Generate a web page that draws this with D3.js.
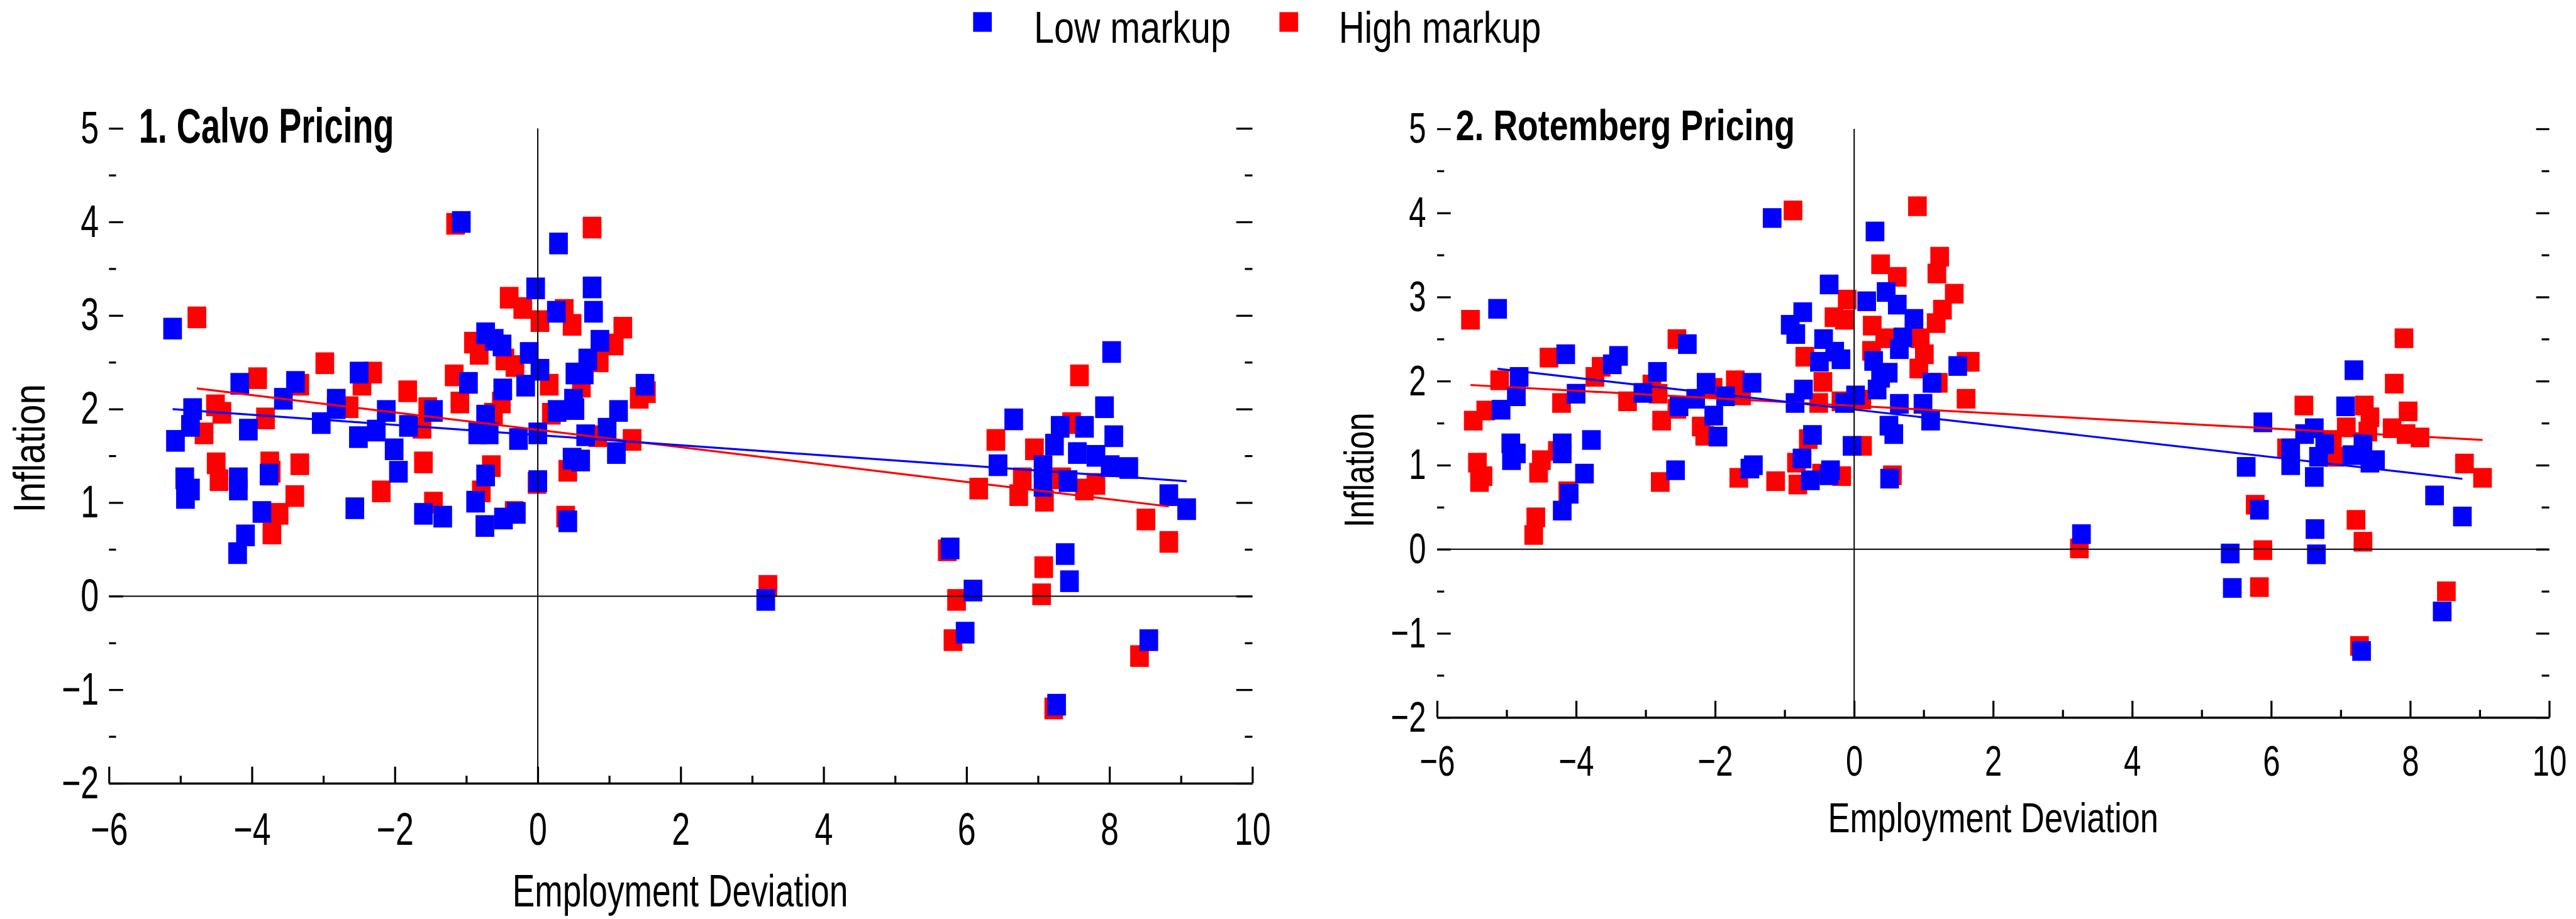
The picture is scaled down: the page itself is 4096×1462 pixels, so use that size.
<!DOCTYPE html>
<html>
<head>
<meta charset="utf-8">
<script src="https://cdn.jsdelivr.net/npm/d3@7"></script>
<style>
  html, body { margin: 0; padding: 0; background: #ffffff; }
  svg { display: block; }
  text { font-family: "Liberation Sans", Arial, sans-serif; fill: #000; }
</style>
</head>
<body>
<svg id="chart"></svg>
<script>
// ---- Data: [employment deviation, inflation] ----
const calvoLow = [
  [-5.11,2.86],[-2.50,2.39],[-2.82,2.10],[-2.82,2.01],[-3.03,1.85],[-4.17,2.27],[-3.39,2.29],[-3.56,2.11],
  [-4.05,1.78],[-4.83,2.00],[-4.86,1.82],[-5.07,1.66],[-4.94,1.26],[-4.86,1.14],[-4.93,1.05],[-4.19,1.26],
  [-4.19,1.14],[-3.76,1.30],[-3.86,0.90],[-4.09,0.65],[-4.20,0.46],[-2.56,0.94],[-1.95,1.33],[-2.01,1.57],
  [-2.51,1.70],[-2.26,1.77],[-2.12,1.98],[-1.81,1.82],
  [-1.07,4.00],[0.29,3.77],[-0.03,3.29],[0.26,3.04],[0.76,3.30],[0.78,3.04],[0.87,2.73],[0.70,2.53],
  [0.52,2.38],[0.65,2.38],[-0.73,2.81],[-0.61,2.74],[-0.50,2.68],[-0.12,2.60],[0.03,2.42],[-0.17,2.25],
  [-0.49,2.21],[-0.97,2.28],[-1.46,1.98],[-0.73,1.93],[-0.84,1.74],[-0.68,1.74],[-0.27,1.68],[0.00,1.74],
  [0.27,1.98],[0.50,2.10],[0.52,2.00],[0.67,1.72],[1.13,1.98],[0.97,1.79],[1.10,1.53],[0.48,1.47],
  [0.60,1.45],[1.50,2.26],[-0.73,1.29],[-0.87,1.01],[-1.60,0.88],[-1.33,0.85],[-0.30,0.89],[-0.48,0.83],
  [-0.74,0.75],[0.00,1.23],[0.42,0.80],
  [3.19,-0.04],[5.77,0.51],[6.09,0.06],[5.98,-0.39],[6.66,1.89],[6.44,1.40],[7.07,1.39],[7.07,1.18],
  [7.23,1.62],[7.31,1.81],[8.03,2.61],[7.93,2.02],[8.06,1.71],[7.65,1.81],[7.55,1.53],[7.81,1.50],
  [8.01,1.39],[8.27,1.37],[7.42,1.23],[8.83,1.08],[9.08,0.93],[7.38,0.45],[7.44,0.16],[8.55,-0.47],
  [7.26,-1.16]
];
const calvoHigh = [
  [-4.77,2.98],[-2.98,2.49],[-2.31,2.39],[-2.46,2.26],[-2.64,2.02],[-3.92,2.33],[-3.33,2.26],[-3.81,1.90],
  [-4.51,2.04],[-4.42,1.96],[-4.67,1.74],[-4.50,1.42],[-4.46,1.24],[-3.75,1.43],[-3.73,1.33],[-3.33,1.41],
  [-3.40,1.07],[-3.62,0.88],[-3.72,0.67],[-2.19,1.12],[-1.82,2.19],
  [-1.15,3.98],[0.76,3.94],[-0.40,3.19],[-0.21,3.08],[0.03,2.94],[0.37,3.06],[0.48,2.90],[1.19,2.87],
  [1.07,2.69],[0.86,2.51],[0.61,2.24],[-0.90,2.71],[-0.82,2.59],[-0.46,2.53],[-0.32,2.46],[0.16,2.26],
  [-0.51,2.07],[-1.17,2.36],[-1.09,2.07],[-1.54,2.01],[-1.62,1.80],[-0.62,1.95],[0.19,1.95],[0.84,1.71],
  [1.32,1.67],[0.42,1.34],[1.42,2.12],[1.52,2.18],[-1.60,1.43],[-0.65,1.39],[-0.79,1.12],[-1.46,1.00],
  [-0.33,0.90],[-0.01,1.21],[0.39,0.85],
  [3.22,0.11],[5.73,0.49],[5.86,-0.04],[5.81,-0.47],[6.17,1.15],[6.41,1.67],[6.73,1.08],[6.78,1.26],
  [6.95,1.57],[7.09,1.02],[7.47,1.85],[7.58,2.36],[7.33,1.26],[7.81,1.20],[7.65,1.14],[8.51,0.82],
  [8.83,0.58],[7.08,0.31],[7.05,0.02],[8.42,-0.64],[7.22,-1.20]
];
const rotembergLow = [
  [-5.13,2.86],[-4.82,2.05],[-4.86,1.82],[-5.08,1.66],[-4.94,1.26],[-4.86,1.14],[-4.93,1.06],[-4.15,2.32],
  [-4.00,1.85],[-4.20,1.26],[-4.20,1.14],[-3.78,1.30],[-3.88,0.90],[-4.10,0.66],[-4.20,0.46],[-3.48,2.20],
  [-3.39,2.30],[-3.04,1.86],[-2.83,2.11],[-2.40,2.44],[-2.52,1.70],[-2.28,1.79],[-2.13,1.98],[-2.02,1.59],
  [-1.96,1.34],[-2.57,0.94],
  [-1.18,3.94],[0.30,3.78],[0.46,3.06],[0.62,2.91],[0.86,2.74],[0.18,2.95],[-0.36,3.15],[-0.74,2.82],
  [-0.92,2.67],[-0.84,2.56],[-0.44,2.50],[-0.28,2.35],[-0.50,2.23],[-0.19,2.26],[0.70,2.52],[0.65,2.38],
  [0.28,2.24],[0.49,2.10],[0.38,2.04],[0.33,1.90],[1.12,1.98],[1.49,2.18],[-1.47,1.98],[-1.85,1.82],
  [-0.73,1.90],[-0.85,1.74],[-0.14,1.74],[0.02,1.83],[0.65,1.73],[0.99,1.73],[0.50,1.47],[0.57,1.37],
  [1.10,1.53],[-0.60,1.36],[-0.75,1.08],[-0.03,1.23],[0.51,0.84],[-1.45,1.00],[-1.50,0.96],[-0.63,0.82],
  [-0.34,0.94],[-0.36,0.88],
  [3.27,0.18],[5.41,-0.05],[5.44,-0.46],[5.83,0.47],[5.64,0.98],[5.88,1.51],[6.62,1.44],[6.48,1.37],
  [6.28,1.20],[6.28,1.00],[6.77,1.25],[6.68,1.10],[6.62,0.86],[7.32,1.26],[7.16,1.12],[7.50,1.06],
  [7.42,1.03],[7.07,1.70],[7.19,2.13],[8.35,0.64],[8.75,0.39],[6.63,0.24],[6.65,-0.06],[8.46,-0.74],
  [7.30,-1.21]
];
const rotembergHigh = [
  [-5.52,2.73],[-5.10,2.01],[-5.30,1.65],[-5.48,1.53],[-5.42,1.03],[-5.34,0.87],[-5.39,0.80],[-4.39,2.28],
  [-4.21,1.74],[-4.50,1.06],[-4.54,0.91],[-4.27,1.17],[-4.12,0.69],[-4.58,0.38],[-4.61,0.17],[-3.73,2.05],
  [-3.64,2.17],[-3.26,1.76],[-2.91,1.96],[-2.82,1.85],[-2.55,2.50],[-2.77,1.53],[-2.55,1.67],[-2.03,1.92],
  [-2.20,1.46],[-2.15,1.35],[-2.79,0.80],
  [-0.88,4.03],[0.91,4.08],[1.23,3.48],[1.19,3.28],[1.44,3.04],[1.27,2.85],[1.18,2.69],[0.38,3.39],
  [0.62,3.24],[-0.10,2.97],[-0.29,2.76],[-0.14,2.73],[-0.71,2.29],[0.26,2.66],[0.44,2.51],[0.25,2.36],
  [0.95,2.51],[1.01,2.32],[0.93,2.15],[1.21,1.98],[1.61,2.23],[1.67,2.23],[1.61,1.79],[-1.71,2.01],
  [-1.62,1.83],[-0.45,1.99],[-0.51,1.74],[-0.19,1.76],[0.11,1.78],[-0.66,1.31],[-0.83,1.03],[0.12,1.23],
  [0.55,0.88],[-1.66,0.85],[-1.13,0.81],[-0.81,0.77],[-0.18,0.87],[-0.47,0.90],
  [3.24,0.01],[5.88,-0.01],[5.83,-0.45],[5.77,0.53],[6.47,1.71],[6.88,1.30],[6.91,1.10],[7.34,1.71],
  [7.42,1.57],[7.08,1.45],[7.39,1.40],[7.74,1.44],[7.94,1.37],[8.14,1.33],[7.97,1.64],[7.77,1.97],
  [7.91,2.51],[8.78,1.02],[9.04,0.85],[7.22,0.35],[7.32,0.09],[8.52,-0.50],[7.27,-1.15],[6.22,1.20]
];

// Fitted trend lines: [intercept, slope]
const calvoFitLow = [1.722, -0.0543];
const calvoFitHigh = [1.778, -0.0928];
const rotembergFitLow = [1.663, -0.0943];
const rotembergFitHigh = [1.706, -0.0449];

const xDomain = [-6, 10];
const yDomain = [-2, 5];
const xTicks = [-6, -4, -2, 0, 2, 4, 6, 8, 10];
const xMinorTicks = [-5, -3, -1, 1, 3, 5, 7, 9];
const yTicks = [-2, -1, 0, 1, 2, 3, 4, 5];
const yMinorTicks = [-1.5, -0.5, 0.5, 1.5, 2.5, 3.5, 4.5];
const seriesNames = ["Low markup", "High markup"];
const seriesColors = ["#0000ff", "#ff0000"];
const panelTitles = ["1. Calvo Pricing", "2. Rotemberg Pricing"];
const xTitle = "Employment Deviation";
const yTitle = "Inflation";

// ---- Layout (drawn in a 5105 x 1822 user space, shown at 4096 x 1462) ----
const W = 5105, H = 1822;
const svg = d3.select("#chart")
  .attr("width", 4096).attr("height", 1462)
  .attr("viewBox", `0 0 ${W} ${H}`);

const panels = [
  {
    title: panelTitles[0], low: calvoLow, high: calvoHigh, fitLow: calvoFitLow, fitHigh: calvoFitHigh,
    x0: 216, x1: 2482, yTop: 254.5, yBot: 1553, mw: 37, mh: 43,
    tickFont: 90, xPad: 58, yPad: 20, majY: 28, majYR: 32,
    titleX: 275, titleY: 283, titleSize: 97, titleLen: 506,
    xtX: 1348, xtY: 1797, xtSize: 91, xtLen: 665,
    ytX: 88, ytY: 889, ytSize: 88, ytLen: 255
  },
  {
    title: panelTitles[1], low: rotembergLow, high: rotembergHigh, fitLow: rotembergFitLow, fitHigh: rotembergFitHigh,
    x0: 2848, x1: 5052, yTop: 255.5, yBot: 1422.4, mw: 37, mh: 39,
    tickFont: 85, xPad: 55, yPad: 22, majY: 27, majYR: 26,
    titleX: 2885, titleY: 278, titleSize: 85, titleLen: 672,
    xtX: 3950, xtY: 1650, xtSize: 84, xtLen: 655,
    ytX: 2722, ytY: 932, ytSize: 84, ytLen: 228
  }
];

const labelScale = 0.72;
const fmt = d3.format("d");

panels.forEach(p => {
  const x = d3.scaleLinear().domain(xDomain).range([p.x0, p.x1]);
  const y = d3.scaleLinear().domain(yDomain).range([p.yBot, p.yTop]);
  const g = svg.append("g");

  // markers: high markup first, low markup on top
  [[p.high, seriesColors[1]], [p.low, seriesColors[0]]].forEach(([pts, col]) => {
    g.append("g").selectAll("rect").data(pts).join("rect")
      .attr("x", d => x(d[0]) - p.mw / 2)
      .attr("y", d => y(d[1]) - p.mh / 2)
      .attr("width", p.mw).attr("height", p.mh)
      .attr("fill", col);
  });

  // trend lines over the range of each series
  [[p.high, p.fitHigh, seriesColors[1]], [p.low, p.fitLow, seriesColors[0]]].forEach(([pts, fit, col]) => {
    const ext = d3.extent(pts, d => d[0]);
    const line = d3.line().x(d => x(d)).y(d => y(fit[0] + fit[1] * d));
    g.append("path").datum(ext).attr("d", line)
      .attr("fill", "none").attr("stroke", col).attr("stroke-width", 4);
  });

  // zero reference lines
  g.append("line")
    .attr("x1", x(xDomain[0])).attr("x2", x(xDomain[1]))
    .attr("y1", y(0)).attr("y2", y(0))
    .attr("stroke", "#000").attr("stroke-width", 2.5);
  g.append("line")
    .attr("x1", x(0)).attr("x2", x(0))
    .attr("y1", y(yDomain[1])).attr("y2", y(yDomain[0]))
    .attr("stroke", "#000").attr("stroke-width", 2.5);

  const styleAxis = (ag) => {
    ag.selectAll(".tick line").attr("stroke", "#000").attr("stroke-width", 4);
    ag.attr("font-family", "'Liberation Sans', Arial, sans-serif").attr("font-size", p.tickFont);
    ag.selectAll("text").attr("fill", "#000");
  };

  // bottom axis
  const bx = g.append("g").attr("transform", `translate(0,${p.yBot})`)
    .call(d3.axisBottom(x).tickValues(xTicks).tickSizeInner(-33).tickSizeOuter(0)
      .tickPadding(p.xPad).tickFormat(fmt));
  styleAxis(bx);
  bx.select(".domain").attr("stroke", "#000").attr("stroke-width", 4.5);
  bx.selectAll("text").attr("transform", `scale(${labelScale},1)`);

  const bxm = g.append("g").attr("transform", `translate(0,${p.yBot})`)
    .call(d3.axisBottom(x).tickValues(xMinorTicks).tickSizeInner(-15).tickSizeOuter(0).tickFormat(""));
  styleAxis(bxm);
  bxm.select(".domain").remove();

  // left axis (ticks pointing inward)
  const ly = g.append("g").attr("transform", `translate(${p.x0},0)`)
    .call(d3.axisLeft(y).tickValues(yTicks).tickSizeInner(-p.majY).tickSizeOuter(0)
      .tickPadding(p.yPad).tickFormat(fmt));
  styleAxis(ly);
  ly.select(".domain").remove();
  ly.selectAll("text").attr("x", -p.yPad / labelScale).attr("transform", `scale(${labelScale},1)`);

  const lym = g.append("g").attr("transform", `translate(${p.x0},0)`)
    .call(d3.axisLeft(y).tickValues(yMinorTicks).tickSizeInner(-14).tickSizeOuter(0).tickFormat(""));
  styleAxis(lym);
  lym.select(".domain").remove();

  // right axis ticks
  const ry = g.append("g").attr("transform", `translate(${p.x1},0)`)
    .call(d3.axisRight(y).tickValues(yTicks).tickSizeInner(-p.majYR).tickSizeOuter(0).tickFormat(""));
  styleAxis(ry);
  ry.select(".domain").remove();
  const rym = g.append("g").attr("transform", `translate(${p.x1},0)`)
    .call(d3.axisRight(y).tickValues(yMinorTicks).tickSizeInner(-15).tickSizeOuter(0).tickFormat(""));
  styleAxis(rym);
  rym.select(".domain").remove();

  // panel title
  g.append("text")
    .attr("x", p.titleX).attr("y", p.titleY)
    .attr("font-size", p.titleSize).attr("font-weight", "bold")
    .attr("textLength", p.titleLen).attr("lengthAdjust", "spacingAndGlyphs")
    .text(p.title);

  // axis titles
  g.append("text")
    .attr("x", p.xtX).attr("y", p.xtY).attr("text-anchor", "middle")
    .attr("font-size", p.xtSize)
    .attr("textLength", p.xtLen).attr("lengthAdjust", "spacingAndGlyphs")
    .text(xTitle);
  g.append("text")
    .attr("transform", `translate(${p.ytX},${p.ytY}) rotate(-90)`)
    .attr("text-anchor", "middle")
    .attr("font-size", p.ytSize)
    .attr("textLength", p.ytLen).attr("lengthAdjust", "spacingAndGlyphs")
    .text(yTitle);
});

// ---- Legend ----
const legendItems = [
  { name: seriesNames[0], color: seriesColors[0], cx: 1947, tx: 2049, len: 390 },
  { name: seriesNames[1], color: seriesColors[1], cx: 2554, tx: 2653, len: 401 }
];
const lg = svg.append("g");
lg.selectAll("rect").data(legendItems).join("rect")
  .attr("x", d => d.cx - 18.5).attr("y", 24).attr("width", 37).attr("height", 39)
  .attr("fill", d => d.color);
lg.selectAll("text").data(legendItems).join("text")
  .attr("x", d => d.tx).attr("y", 85)
  .attr("font-size", 88)
  .attr("textLength", d => d.len).attr("lengthAdjust", "spacingAndGlyphs")
  .text(d => d.name);
</script>
</body>
</html>
